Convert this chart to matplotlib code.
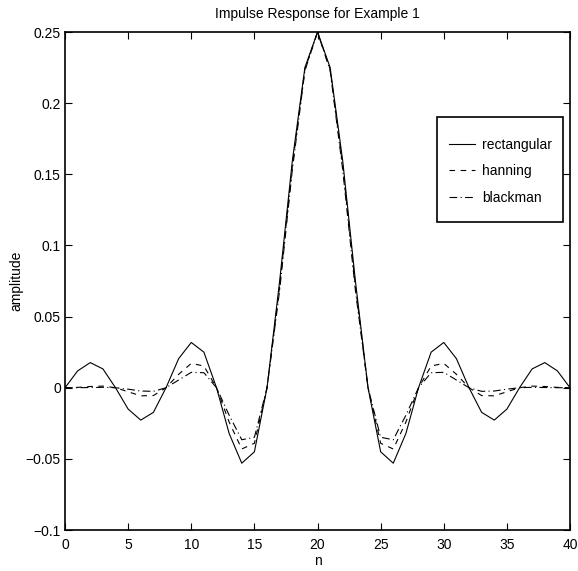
import matplotlib
matplotlib.use("Agg")
from matplotlib import pyplot as plt
from matplotlib.patches import Rectangle

plt.rcParams['font.family'] = ['Liberation Sans', 'DejaVu Sans']

n = list(range(41))

half_rect = [0.0, 0.01185, 0.01768, 0.01324, 0.0, -0.01501, -0.02274, -0.01731,
             0.0, 0.02046, 0.03183, 0.02501, 0.0, -0.03215, -0.05305, -0.04502,
             0.0, 0.07503, 0.15915, 0.22508]
half_hann = [0.0, 0.000263, 0.000876, 0.00115, 0.0, -0.002826, -0.005685, -0.005493,
             0.0, 0.009465, 0.017104, 0.015288, 0.0, -0.024113, -0.043063, -0.039011,
             0.0, 0.071315, 0.155615, 0.223822]
half_black = [0.0, 0.0000265, 0.000162, 0.000285, 0.0, -0.000997, -0.002306, -0.002527,
              0.0, 0.005436, 0.010822, 0.010558, 0.0, -0.019289, -0.03656, -0.034825,
              0.0, 0.068466, 0.152824, 0.222811]
peak = 0.25

rect = half_rect + [peak] + half_rect[::-1]
hann = half_hann + [peak] + half_hann[::-1]
black = half_black + [peak] + half_black[::-1]

fig = plt.figure(figsize=(5.78, 5.71), dpi=100)
ax = fig.add_axes([0.1125, 0.0718, 0.8737, 0.872])

ax.plot(n, rect, color='k', linestyle='-', linewidth=0.8, label='rectangular')
ax.plot(n, hann, color='k', linestyle=(0, (5, 5)), linewidth=0.8, label='hanning')
ax.plot(n, black, color='k', linestyle=(0, (7, 3, 1, 3)), linewidth=0.8, label='blackman')

ax.set_xlim(0, 40)
ax.set_ylim(-0.1, 0.25)
ax.set_xticks(range(0, 41, 5))
ax.set_yticks([-0.1, -0.05, 0, 0.05, 0.1, 0.15, 0.2, 0.25])
ax.set_yticklabels(['\u22120.1', '\u22120.05', '0', '0.05', '0.1', '0.15', '0.2', '0.25'])
ax.tick_params(direction='in', top=True, right=True, labelsize=10, length=5, width=0.8)
ax.tick_params(axis='x', pad=6)
ax.tick_params(axis='y', pad=3)
for sp in ax.spines.values():
    sp.set_linewidth(1.2)

ax.set_xlabel('n', fontsize=10, labelpad=1)
ax.set_ylabel('amplitude', fontsize=10, labelpad=2)
ax.set_title('Impulse Response for Example 1', fontsize=10, pad=10)

leg = ax.legend(loc='upper left', bbox_to_anchor=(0.7465, 0.801), fontsize=10,
                frameon=False, handlelength=1.9, handletextpad=0.5,
                borderpad=0, labelspacing=0.88)
ax.add_patch(Rectangle((0.7366, 0.6185), 0.2494, 0.2105, transform=ax.transAxes,
                       fill=False, edgecolor='k', linewidth=1.2, zorder=5))

fig.savefig('out.png', dpi=100)
